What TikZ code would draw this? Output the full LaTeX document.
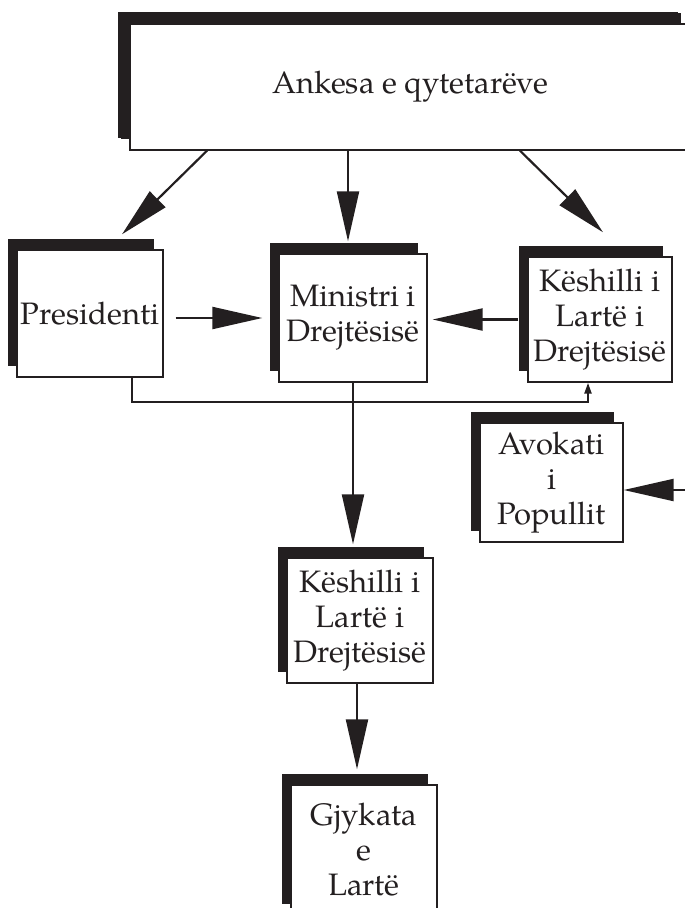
\documentclass[tikz,border=0pt]{standalone}
\usepackage{fontspec}
\setmainfont{TeX Gyre Pagella}
\usetikzlibrary{arrows.meta,shadows,calc}
\definecolor{ink}{HTML}{231F20}
\begin{document}
\begin{tikzpicture}[x=1pt,y=-1pt,
  box/.style={draw=ink, line width=1.4pt, fill=white, align=center, inner sep=0pt,
    font=\fontsize{31}{35}\selectfont, text=ink,
    copy shadow={shadow xshift=-9pt, shadow yshift=11pt, fill=ink, draw=none}},
  bigbox/.style={box, copy shadow={shadow xshift=-12pt, shadow yshift=12pt, fill=ink, draw=none}},
  conn/.style={draw=ink, line width=2.2pt},
  arr/.style={conn, -{Triangle[length=50pt,width=22pt]}},
  smallarr/.style={conn, -{Triangle[length=11pt,width=7pt]}}]
\useasboundingbox (0,0) rectangle (685,908);
\clip (0,0) rectangle (685,908);

\node[bigbox, minimum width=560pt, minimum height=126pt] (ank) at (410,87) {Ankesa e qytetarëve};
\node[box, minimum width=146pt, minimum height=127pt] (pres) at (90,313.5) {Presidenti};
\node[box, minimum width=148pt, minimum height=128pt] (min) at (353,318) {Ministri i\\Drejtësisë};
\node[box, minimum width=144pt, minimum height=125pt] (ksh1) at (600,319.5) {Këshilli i\\Lartë i\\Drejtësisë};
\node[box, minimum width=143pt, minimum height=119pt] (avo) at (551.5,482.5) {Avokati\\i\\Popullit};
\node[box, minimum width=146pt, minimum height=125pt] (ksh2) at (360,620.5) {Këshilli i\\Lartë i\\Drejtësisë};
\node[box, minimum width=146pt, minimum height=130pt] (gjy) at (364,850) {Gjykata\\e\\Lartë};

% from Ankesa
\draw[arr] ([xshift=-203pt]ank.south) -- ([xshift=32pt,yshift=15pt]pres.north);
\draw[arr] ([xshift=-62pt]ank.south) -- ([xshift=-5pt,yshift=12pt]min.north);
\draw[arr] ([xshift=110pt]ank.south) -- ([xshift=3pt,yshift=24pt]ksh1.north);

% horizontal arrows into Ministri
\draw[arr, shorten <=12pt, shorten >=16pt] (pres.east |- min.west) -- (min.west);
\draw[arr, shorten <=9pt, shorten >=5pt] (ksh1.west) -- (ksh1.west -| min.east);

% Presidenti -> Keshilli (bottom route)
\coordinate (pb) at ([xshift=42pt]pres.south);
\coordinate (kb) at ([xshift=-12pt]ksh1.south);
\coordinate (rt) at (0,402);
\draw[smallarr] (pb) -- (pb |- rt) -- (kb |- rt) -- (kb);

% Ministri -> Keshilli (middle)
\draw[arr, shorten >=13pt] (min.south) -- (min.south |- ksh2.north);

% into Avokati
\coordinate (avin) at (700,490);
\draw[arr] (avin) -- (avo.east |- avin);

% Keshilli -> Gjykata
\draw[arr, shorten >=15pt] ([xshift=-3pt]ksh2.south) -- ([xshift=-3pt]ksh2.south |- gjy.north);
\end{tikzpicture}
\end{document}
